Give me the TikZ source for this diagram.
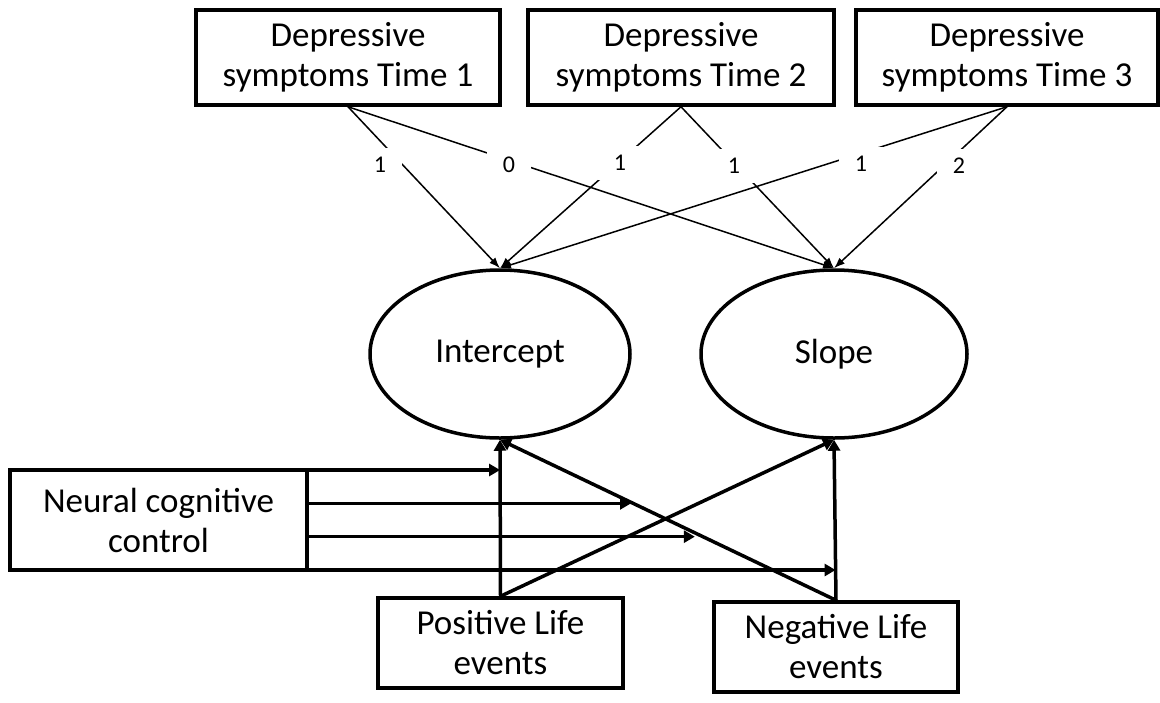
\documentclass[tikz,border=0pt]{standalone}
\usepackage{fontspec}
\setmainfont{Carlito}
\usetikzlibrary{shapes.geometric,arrows.meta,intersections,calc}
\begin{document}
\begin{tikzpicture}[x=1pt,y=-1pt,
  box/.style={draw,line width=3.5pt,align=center,font=\fontsize{35}{40}\selectfont,inner sep=0pt},
  lat/.style={draw,ellipse,line width=3.5pt,font=\fontsize{35}{40}\selectfont,inner sep=0pt},
  load/.style={line width=1.5pt,-{Latex[length=11pt,width=8pt]}},
  lbl/.style={fill=white,font=\fontsize{24}{26}\selectfont,minimum width=44pt,minimum height=34pt,inner sep=0pt},
  reg/.style={line width=3.5pt,-{Triangle[length=11pt,width=12pt]}},
]
\useasboundingbox (0,0) rectangle (1160,702);

% observed depressive symptoms
\node[box,minimum width=304pt,minimum height=95pt] (b1) at (348,57.5) {Depressive\\symptoms Time 1};
\node[box,minimum width=306pt,minimum height=95pt] (b2) at (681,57.5) {Depressive\\symptoms Time 2};
\node[box,minimum width=302pt,minimum height=95pt] (b3) at (1007,57.5) {Depressive\\symptoms Time 3};

% latent factors
\node[lat,minimum width=260pt,minimum height=168pt] (inter) at (500,354) {Intercept};
\node[lat,minimum width=266pt,minimum height=168pt] (slope) at (834,354) {Slope};

% predictors
\node[box,outer sep=0pt,minimum width=297pt,minimum height=100pt] (ncc) at (158.5,520) {Neural cognitive\\control};
\node[box,minimum width=245pt,minimum height=90pt] (pos) at (500.5,643) {Positive Life\\events};
\node[box,minimum width=244pt,minimum height=90pt] (neg) at (836,647) {Negative Life\\events};

% loadings
\draw[load] (b1.south) -- (inter.north);
\draw[load] (b1.south) -- (slope.north);
\draw[load] (b2.south) -- (inter.north);
\draw[load] (b2.south) -- (slope.north);
\draw[load] (b3.south) -- (inter.north);
\draw[load] (b3.south) -- (slope.north);
\node[lbl] (l1) at (380,165) {1};
\node[lbl] (l2) at (509,165) {0};
\node[lbl] (l3) at (620,163) {1};
\node[lbl] (l4) at (734,166) {1};
\node[lbl] (l5) at (861,164) {1};
\node[lbl] (l6) at (959,166) {2};

% regressions
\draw[reg,name path=pi] (pos.north) -- (inter.south);
\draw[reg,name path=ps] (pos.north) -- (slope.south);
\draw[reg,name path=ns] (neg.north) -- (slope.south);
\draw[reg,name path=ni] (neg.north) -- (inter.south);

% moderation arrows
\coordinate (m1) at (ncc.north east);
\coordinate (m2) at ($(ncc.north east)!1/3!(ncc.south east)$);
\coordinate (m3) at ($(ncc.north east)!2/3!(ncc.south east)$);
\coordinate (m4) at (ncc.south east);
\path[name path=h1] (m1) -- ++(700,0);
\path[name path=h2] (m2) -- ++(700,0);
\path[name path=h3] (m3) -- ++(700,0);
\path[name path=h4] (m4) -- ++(700,0);
\draw[reg,name intersections={of=h1 and pi}] (m1) -- (intersection-1);
\draw[reg,shorten >=2pt,name intersections={of=h2 and ni}] (m2) -- (intersection-1);
\draw[reg,shorten >=8pt,name intersections={of=h3 and ni}] (m3) -- (intersection-1);
\draw[reg,name intersections={of=h4 and ns}] (m4) -- (intersection-1);
\end{tikzpicture}
\end{document}
